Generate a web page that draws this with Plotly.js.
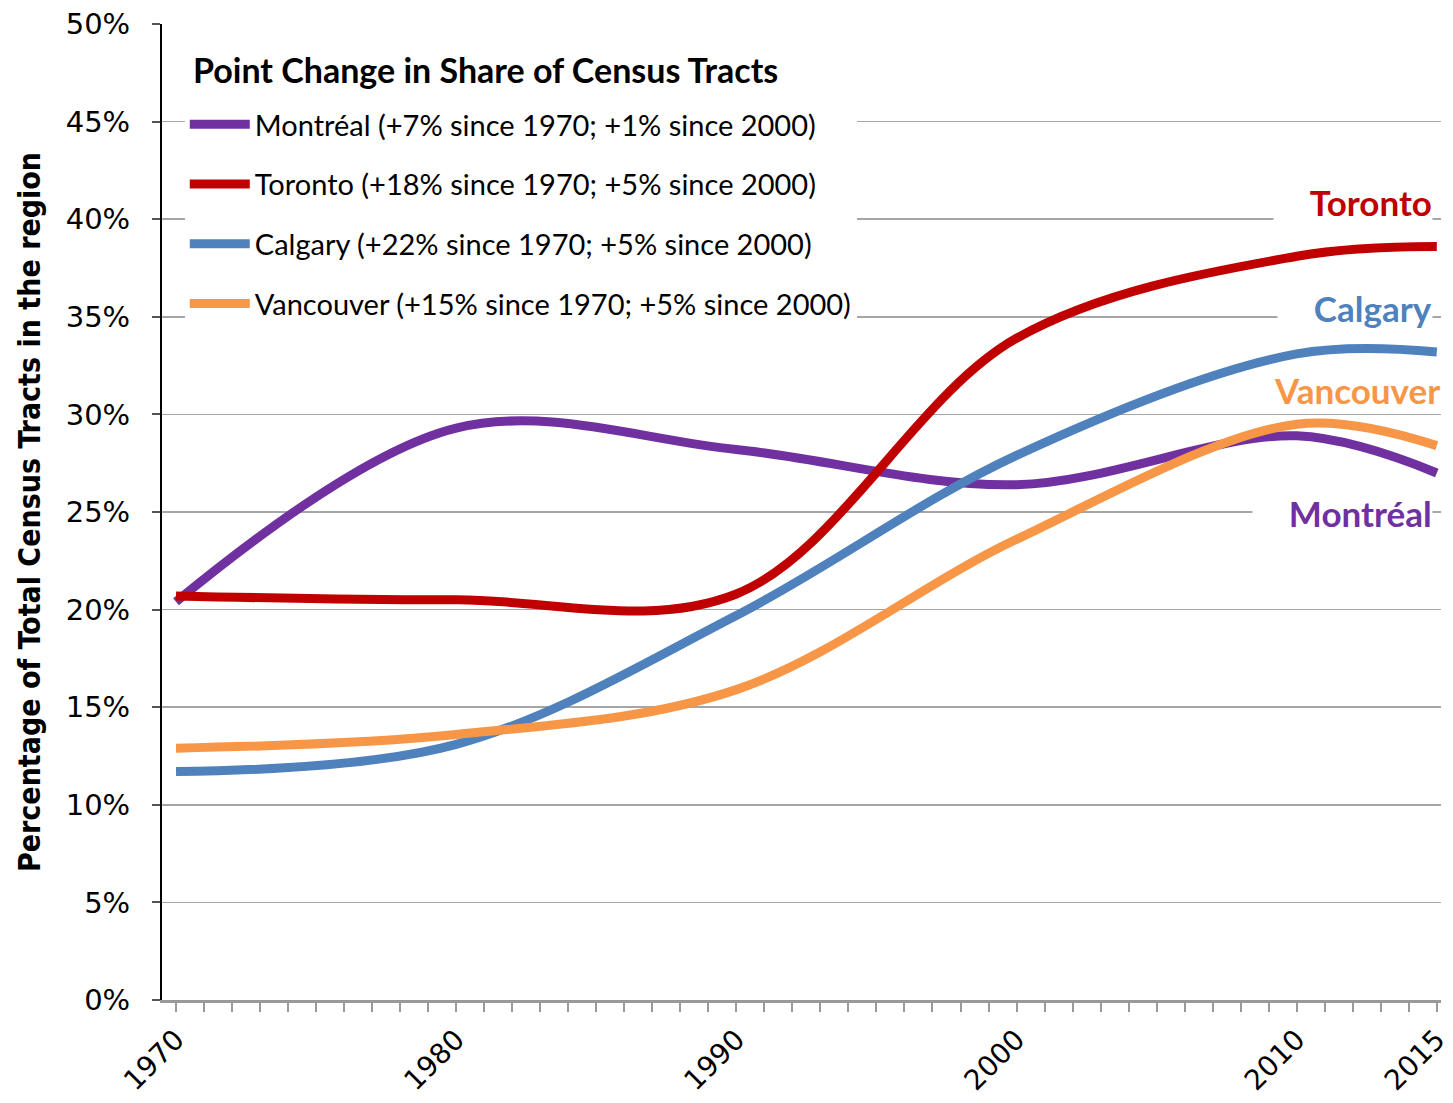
<!DOCTYPE html>
<html>
<head>
<meta charset="utf-8">
<script src="https://cdn.plot.ly/plotly-3.0.1.min.js"></script>
<style>html,body{margin:0;padding:0;background:#fff;}#chart{width:1453px;height:1103px;}</style>
</head>
<body>
<div id="chart"></div>
<script>
const years = [1970, 1980, 1990, 2000, 2010, 2015];
const montreal = [20.4, 29.3, 28.2, 26.4, 28.9, 27.0];
const toronto = [20.7, 20.5, 20.8, 33.9, 38.1, 38.6];
const calgary = [11.7, 13.1, 19.7, 27.9, 33.1, 33.2];
const vancouver = [12.9, 13.6, 15.9, 23.6, 29.5, 28.4];
const seriesNames = [
  "Montréal (+7% since 1970; +1% since 2000)",
  "Toronto (+18% since 1970; +5% since 2000)",
  "Calgary (+22% since 1970; +5% since 2000)",
  "Vancouver (+15% since 1970; +5% since 2000)"
];
const legendTitle = "Point Change in Share of Census Tracts";
const endLabels = ["Montréal", "Toronto", "Calgary", "Vancouver"];
const labelY = [24.95, 40.9, 35.45, 31.25];
const colors = ["#7030A0", "#C00000", "#4F81BD", "#F79646"];
const tickYears = [1970, 1980, 1990, 2000, 2010, 2015];

const FONT = 'Lato, "Open Sans", sans-serif';
const allSeries = [montreal, toronto, calgary, vancouver];
const traces = allSeries.map((vals, i) => ({
  x: years, y: vals, name: seriesNames[i], type: 'scatter', mode: 'lines',
  line: {color: colors[i], width: 9, shape: 'spline', smoothing: 1},
  legendgroup: 'g' + i, hoverinfo: 'skip'
}));

const pad = '&nbsp;&nbsp;&nbsp;&nbsp;';
const annotations = endLabels.map((t, i) => ({
  x: i === 3 ? 2015.15 : 2014.85, y: labelY[i], xref: 'x', yref: 'y', xanchor: 'right', yanchor: 'middle',
  text: (i === 3 ? '' : pad) + '<b>' + t + '</b>', showarrow: false,
  font: {family: FONT, size: 35, color: colors[i]},
  bgcolor: i === 3 ? 'rgba(0,0,0,0)' : '#ffffff', borderpad: 0
}));
annotations.push({
  x: 0.0225, y: 1 - (70 - 24) / 976, xref: 'paper', yref: 'paper', xanchor: 'left', yanchor: 'middle',
  text: '<b>' + legendTitle + '</b>', showarrow: false,
  font: {family: FONT, size: 34, color: '#000'}
});

const layout = {
  width: 1453, height: 1103,
  margin: {l: 162, r: 12, t: 24, b: 103},
  paper_bgcolor: '#fff', plot_bgcolor: '#fff',
  showlegend: true,
  shapes: [{
    type: 'rect', xref: 'paper', yref: 'paper', layer: 'between',
    x0: 0.014, x1: 0.548, y0: 1 - (335 - 24) / 976, y1: 1,
    fillcolor: '#ffffff', line: {width: 0}
  }],
  legend: {
    x: 0.0178, y: 1 - (99 - 24) / 976, xanchor: 'left', yanchor: 'top',
    bgcolor: '#ffffff', borderwidth: 0,
    font: {family: FONT, size: 29, color: '#000'},
    traceorder: 'grouped', tracegroupgap: 19, itemwidth: 60
  },
  xaxis: {
    range: [1969.5, 2015.15], tickmode: 'array', tickvals: tickYears,
    ticktext: tickYears.map(String), tickangle: -45, ticklabeloverflow: 'allow',
    tickfont: {family: '"DejaVu Sans", sans-serif', size: 28, color: '#000'},
    ticks: 'outside', ticklen: 9, tickwidth: 2, tickcolor: '#999',
    minor: {tickmode: 'linear', tick0: 1970, dtick: 1, ticks: 'outside', ticklen: 9, tickwidth: 2, tickcolor: '#999', showgrid: false},
    showgrid: false, zeroline: false,
    showline: true, linecolor: '#999', linewidth: 3
  },
  yaxis: {
    range: [0, 50], dtick: 5, ticksuffix: '%',
    tickfont: {family: '"DejaVu Sans", sans-serif', size: 29, color: '#000'},
    ticks: 'outside', ticklen: 8, tickwidth: 2, tickcolor: '#555', ticklabelstandoff: 16,
    showgrid: true, gridcolor: '#a6a6a6', gridwidth: 1.5, zeroline: false,
    showline: true, linecolor: '#000', linewidth: 2,
    title: {text: '<b>Percentage of Total Census Tracts in the region</b>', standoff: 16,
            font: {family: '"DejaVu Sans Condensed", "DejaVu Sans", sans-serif', size: 30, color: '#000'}}
  },
  annotations: annotations
};

Plotly.newPlot('chart', traces, layout, {displayModeBar: false, staticPlot: true});
</script>
</body>
</html>
